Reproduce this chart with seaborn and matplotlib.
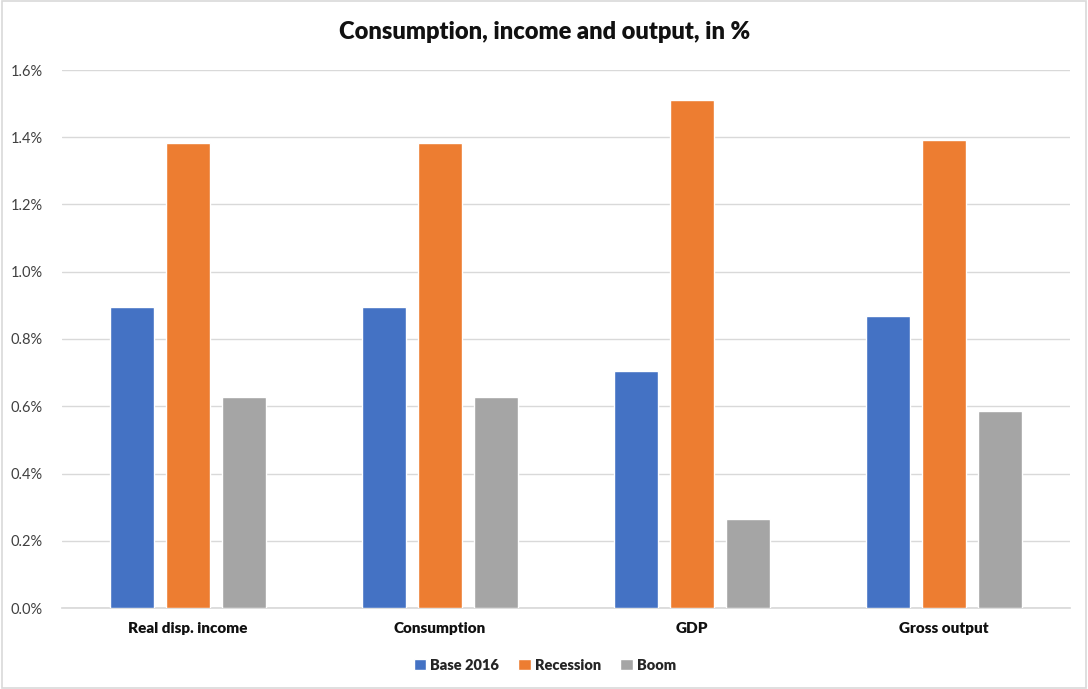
import matplotlib
matplotlib.use("Agg")
import matplotlib.pyplot as plt
import matplotlib.ticker as mticker
from matplotlib.patches import Rectangle
import pandas as pd
import seaborn as sns

categories = ["Real disp. income", "Consumption", "GDP", "Gross output"]
series_names = ["Base 2016", "Recession", "Boom"]
base_2016 = [0.895, 0.895, 0.705, 0.868]
recession = [1.383, 1.383, 1.511, 1.392]
boom = [0.628, 0.628, 0.265, 0.586]
colors = ["#4472C4", "#ED7D31", "#A5A5A5"]

df = pd.DataFrame({
    "category": categories * 3,
    "series": [s for s in series_names for _ in categories],
    "value": base_2016 + recession + boom,
})

sns.set_theme(style="white")
plt.rcParams["font.family"] = ["Lato", "DejaVu Sans"]

fig = plt.figure(figsize=(10.88, 6.89), dpi=100)
ax = fig.add_axes([62 / 1088, 1 - 608 / 689, 1008 / 1088, 538 / 689])

sns.barplot(data=df, x="category", y="value", hue="series", order=categories,
            hue_order=series_names, palette=colors, width=0.667, gap=0.214,
            saturation=1, ax=ax, legend=True, zorder=3)

ax.set_ylim(0, 1.6)
ax.set_xlim(-0.5, 3.5)
ax.yaxis.set_major_locator(mticker.MultipleLocator(0.2))
ax.yaxis.set_major_formatter(mticker.FuncFormatter(lambda v, p: f"{v:.1f}%"))
ax.grid(axis="y", color="#D9D9D9", linewidth=1, zorder=0)
ax.set_axisbelow(True)
for s in ["top", "right", "left"]:
    ax.spines[s].set_visible(False)
ax.spines["bottom"].set_color("#D9D9D9")
ax.tick_params(axis="y", labelsize=10.5, colors="#404040", length=0, pad=14)
ax.tick_params(axis="x", labelsize=11, length=0, pad=10)
for lbl in ax.get_xticklabels():
    lbl.set_fontweight("heavy")
    lbl.set_color("#111111")
ax.set_xlabel("")
ax.set_ylabel("")

handles, labels = ax.get_legend_handles_labels()
ax.legend(handles, labels, loc="center", bbox_to_anchor=(545 / 1088, 1 - 665 / 689),
          bbox_transform=fig.transFigure, ncol=3, frameon=False,
          handlelength=0.85, handleheight=0.85, handletextpad=0.3, columnspacing=1.3,
          prop={"weight": "heavy", "size": 10.5})

fig.text(545 / 1088, 1 - 32 / 689, "Consumption, income and output, in %",
         ha="center", va="center", fontsize=17, fontweight="heavy", color="#111111")

fig.patches.append(Rectangle((0.002, 0.002), 0.996, 0.996, transform=fig.transFigure,
                             fill=False, edgecolor="#D9D9D9", linewidth=1.2))

fig.savefig("out.png", dpi=100)
